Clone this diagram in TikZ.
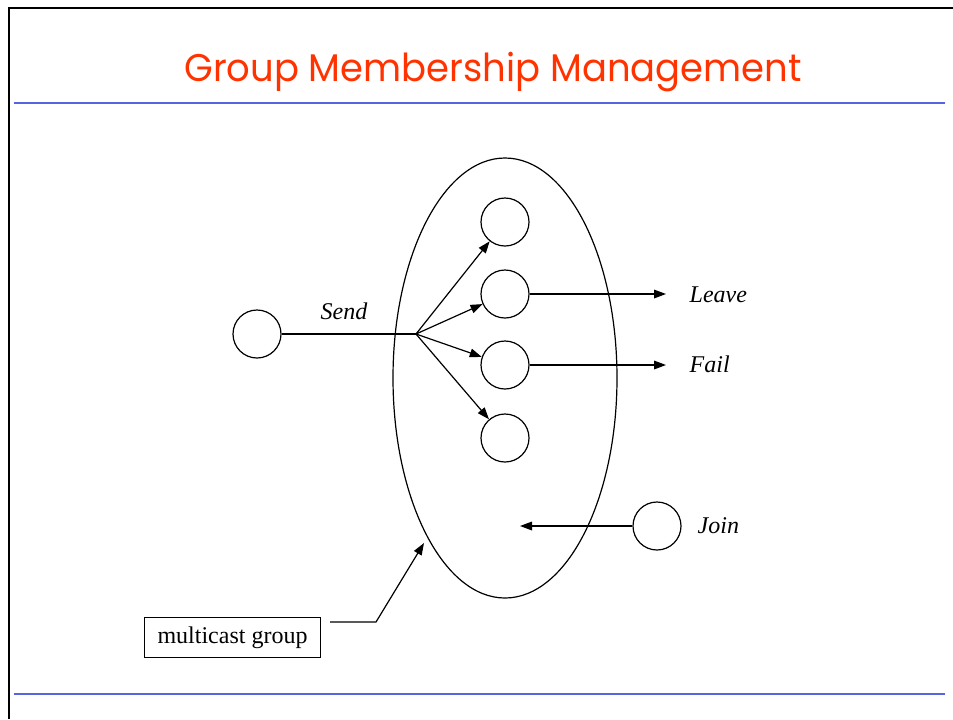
\documentclass[tikz,border=0pt]{standalone}
\usepackage{fontspec}
\setmainfont{Liberation Serif}
\newfontfamily\titlefont{Poppins}
\usetikzlibrary{arrows.meta,shapes.geometric}
\definecolor{titlered}{RGB}{255,51,0}
\definecolor{rulecol}{RGB}{85,100,225}
\begin{document}
\begin{tikzpicture}[x=0.75pt,y=-0.75pt,
  member/.style={circle,draw,line width=0.9pt,minimum size=36pt,inner sep=0pt},
  conn/.style={line width=0.9pt},
  arr/.style={line width=0.9pt,-{Triangle[length=9pt,width=6.5pt]}},
  lbl/.style={font=\fontsize{18}{22}\selectfont\itshape},
  rulebar/.style={rulecol,line width=1.6pt}]
\useasboundingbox (0,0) rectangle (953,719);
% frame
\draw[line width=1.2pt] (9,719) -- (9,8) -- (953,8);
% title
\node (title) [anchor=base,inner sep=0pt] at (493,81) {\resizebox{463pt}{22pt}{\titlefont\color{titlered}Group Membership Management}};
\draw[rulebar] (14,103) -- (945,103);
\draw[rulebar] (14,694) -- (945,694);
% group ellipse
\node (group) [ellipse,draw,line width=0.9pt,minimum width=168pt,minimum height=330pt,inner sep=0pt] at (505,378) {};
% members
\node (m1) [member] at (505,222) {};
\node (m2) [member] at (505,294) {};
\node (m3) [member] at (505,365) {};
\node (m4) [member] at (505,438) {};
\node (src) [member] at (257,334) {};
\node (joiner) [member] at (657,526) {};
% send fan
\coordinate (fan) at (416,334);
\draw[conn] (src) -- (fan);
\node (send) [lbl] at (344,311) {Send};
\draw[arr] (fan) -- (m1);
\draw[arr] (fan) -- (m2);
\draw[arr] (fan) -- (m3);
\draw[arr] (fan) -- (m4);
% leave / fail
\coordinate (leaveend) at (666,294);
\coordinate (failend) at (666,365);
\draw[arr] (m2) -- (leaveend);
\draw[arr] (m3) -- (failend);
\node (leave) [lbl,anchor=west] at (685,295) {Leave};
\node (fail) [lbl,anchor=west] at (685,364) {Fail};
% join
\coordinate (joinend) at (520,526);
\draw[arr] (joiner) -- (joinend);
\node (join) [lbl,anchor=west] at (693,526) {Join};
% multicast group label
\node (mg) [draw,line width=0.9pt,minimum width=132pt,minimum height=30pt,font=\fontsize{18}{22}\selectfont] at (232.5,637.5) {multicast group};
\coordinate (mgbend) at (376,622);
\coordinate (mgtip) at (424,543);
\draw[arr] (330,622) -- (mgbend) -- (mgtip);
\end{tikzpicture}
\end{document}
